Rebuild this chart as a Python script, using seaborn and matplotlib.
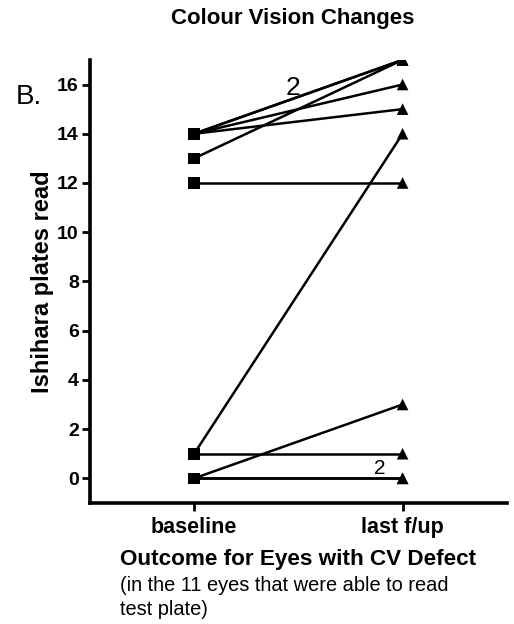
import numpy as np
import pandas as pd
import matplotlib
matplotlib.use("Agg")
import matplotlib.pyplot as plt
import seaborn as sns

# Ishihara plates read per eye, at baseline and at last follow-up
timepoints = ["baseline", "last f/up"]
baseline = [14, 14, 14, 14, 13, 12, 1, 1, 0, 0, 0]
last_fup = [17, 17, 16, 15, 17, 12, 14, 1, 3, 0, 0]
eye_ids = list(range(1, 12))
y_ticks = [0, 2, 4, 6, 8, 10, 12, 14, 16]

df = pd.DataFrame({
    "eye": eye_ids * 2,
    "time": [timepoints[0]] * len(eye_ids) + [timepoints[1]] * len(eye_ids),
    "plates": baseline + last_fup,
})
df["pos"] = df["time"].map({t: i for i, t in enumerate(timepoints)})

sns.set_style("ticks")
plt.rcParams["font.family"] = ["Liberation Sans", "DejaVu Sans"]
plt.rcParams.update({"text.color": "black", "axes.labelcolor": "black",
                     "xtick.color": "black", "ytick.color": "black"})

fig = plt.figure(figsize=(5.14, 6.24), dpi=100)
ax = fig.add_axes([0.175, 0.194, 0.811, 0.71])

sns.lineplot(data=df, x="pos", y="plates", units="eye", estimator=None,
             color="black", linewidth=1.8, ax=ax, legend=False)
sns.scatterplot(data=df, x="pos", y="plates", style="time",
                markers={"baseline": "s", "last f/up": "^"},
                color="black", s=70, edgecolor="black", linewidth=0,
                ax=ax, legend=False, zorder=5)

ax.set_xlim(-0.5, 1.5)
ax.set_ylim(-1, 17)
ax.set_yticks(y_ticks)
ax.set_yticklabels([str(v) for v in y_ticks], fontweight="bold", fontsize=14)
ax.set_xticks(range(len(timepoints)))
ax.set_xticklabels(timepoints, fontweight="bold", fontsize=15.5)
ax.tick_params(axis="both", direction="out", length=6, width=2, color="black",
               pad=2)
ax.tick_params(axis="x", pad=4)
for side in ("left", "bottom"):
    ax.spines[side].set_linewidth(2.6)
    ax.spines[side].set_color("black")
sns.despine(ax=ax)

ax.set_xlabel("")
ax.set_ylabel("Ishihara plates read", fontweight="bold", fontsize=17,
              labelpad=2)

# counts of overlapping eyes
ax.text(0.476, 15.85, "2", fontsize=19, ha="center", va="center")
ax.text(0.89, 0.4, "2", fontsize=15, ha="center", va="center")

fig.text(0.57, 0.971, "Colour Vision Changes", fontweight="bold", fontsize=16,
         ha="center", va="center")
fig.text(0.03, 0.845, "B.", fontsize=20, ha="left", va="center")
fig.text(0.233, 0.103, "Outcome for Eyes with CV Defect", fontweight="bold",
         fontsize=16.2, ha="left", va="center")
fig.text(0.233, 0.043, "(in the 11 eyes that were able to read\ntest plate)",
         fontsize=14.4, ha="left", va="center", linespacing=1.35)

fig.savefig("out.png", dpi=100)
